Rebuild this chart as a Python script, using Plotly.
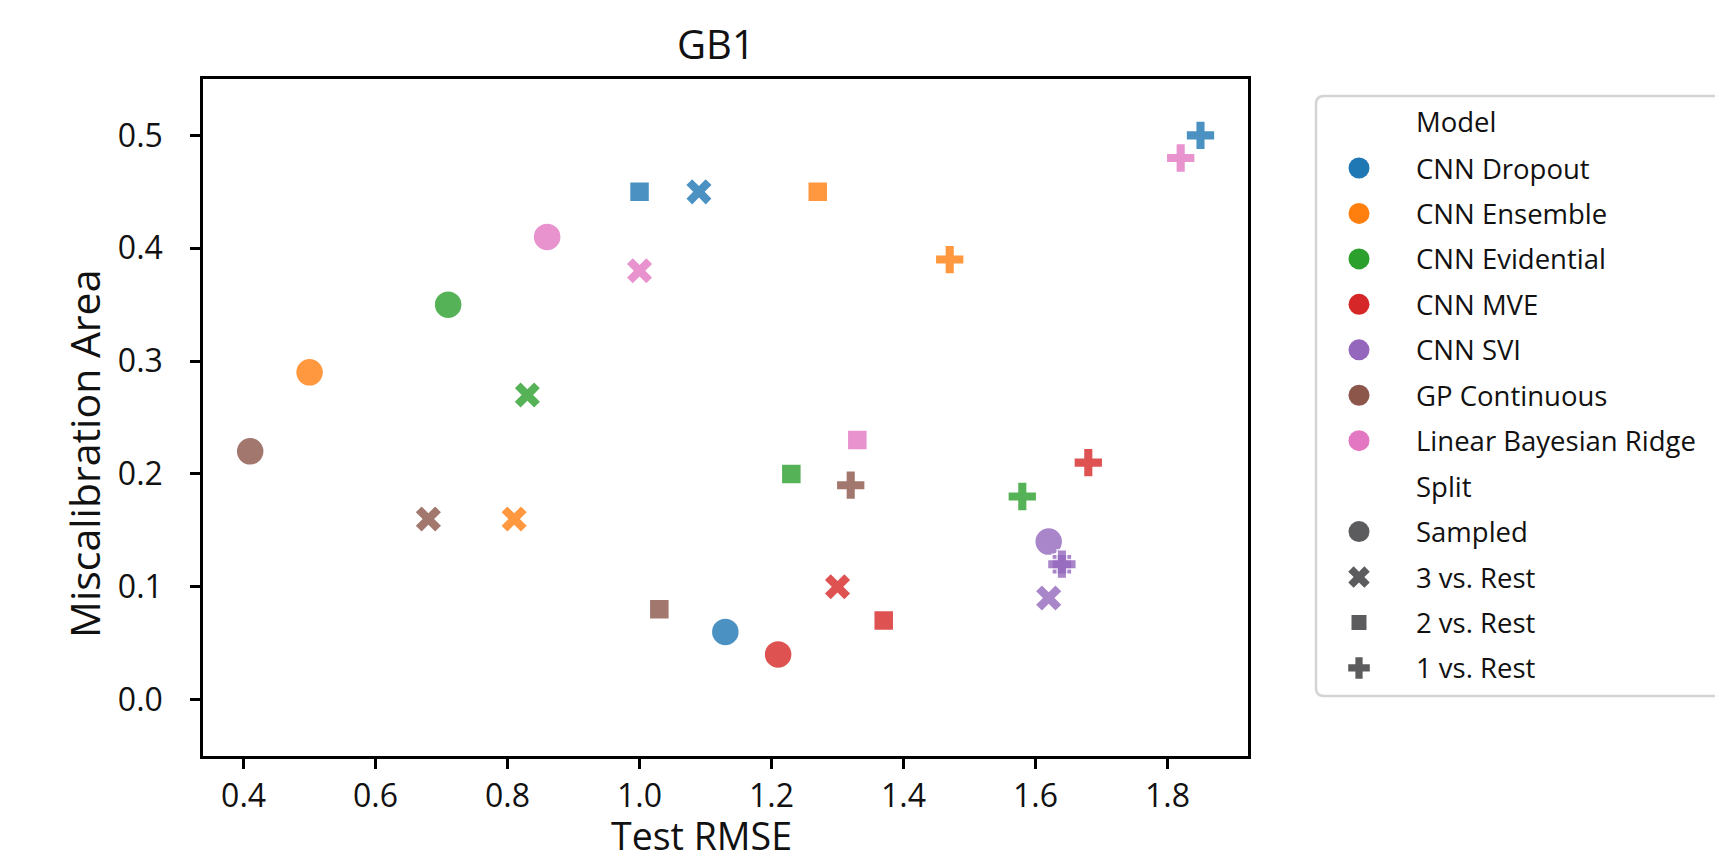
import plotly.graph_objects as go

# ---------------- data ----------------
models = ["CNN Dropout", "CNN Ensemble", "CNN Evidential", "CNN MVE",
          "CNN SVI", "GP Continuous", "Linear Bayesian Ridge"]
splits = ["Sampled", "3 vs. Rest", "2 vs. Rest", "1 vs. Rest"]

# values per split, in model order
sampled_rmse = [1.13, 0.50, 0.71, 1.21, 1.62, 0.41, 0.86]
sampled_miscal = [0.06, 0.29, 0.35, 0.04, 0.14, 0.22, 0.41]
three_vs_rest_rmse = [1.09, 0.81, 0.83, 1.30, 1.62, 0.68, 1.00]
three_vs_rest_miscal = [0.45, 0.16, 0.27, 0.10, 0.09, 0.16, 0.38]
two_vs_rest_rmse = [1.00, 1.27, 1.23, 1.37, 1.64, 1.03, 1.33]
two_vs_rest_miscal = [0.45, 0.45, 0.20, 0.07, 0.12, 0.08, 0.23]
one_vs_rest_rmse = [1.85, 1.47, 1.58, 1.68, 1.64, 1.32, 1.82]
one_vs_rest_miscal = [0.50, 0.39, 0.18, 0.21, 0.12, 0.19, 0.48]

x_ticks = [0.4, 0.6, 0.8, 1.0, 1.2, 1.4, 1.6, 1.8]
y_ticks = [0.0, 0.1, 0.2, 0.3, 0.4, 0.5]

# ---------------- styles ----------------
model_colors = ["#1f77b4", "#ff7f0e", "#2ca02c", "#d62728",
                "#9467bd", "#8c564b", "#e377c2"]
split_symbols = ["circle", "x", "square", "cross"]
split_sizes = [28, 24, 20, 24]
legend_sizes = [21, 19, 15, 18]
split_gray = "#5c5c5e"
FONT = "Open Sans, Noto Sans, DejaVu Sans, sans-serif"
TXT = "#111111"

W, H = 1715, 862
PX_L, PX_R, PX_T, PX_B = 203, 1248, 79, 756
LEG_X0 = 1300  # left pixel of the legend drawing area


def px(x):
    return x / W


def py(y):
    return 1 - y / H


rmse_by_split = [sampled_rmse, three_vs_rest_rmse, two_vs_rest_rmse, one_vs_rest_rmse]
miscal_by_split = [sampled_miscal, three_vs_rest_miscal, two_vs_rest_miscal, one_vs_rest_miscal]

xs, ys, cols, syms, sizes, texts = [], [], [], [], [], []
for mi, m in enumerate(models):
    for si, s in enumerate(splits):
        xs.append(rmse_by_split[si][mi])
        ys.append(miscal_by_split[si][mi])
        cols.append(model_colors[mi])
        syms.append(split_symbols[si])
        sizes.append(split_sizes[si])
        texts.append(f"{m} / {s}")

fig = go.Figure()
fig.add_trace(go.Scatter(
    x=xs, y=ys, mode="markers", text=texts, hoverinfo="text+x+y",
    marker=dict(color=cols, symbol=syms, size=sizes, opacity=0.8,
                line=dict(color="white", width=1.5)),
    showlegend=False, xaxis="x", yaxis="y"))

# ---------------- legend (drawn on its own small pixel axis) ----------------
row_first = 168.0
row_step = 45.45
legend_rows = [("Model", "title", None)]
for i, m in enumerate(models):
    legend_rows.append((m, "model", i))
legend_rows.append(("Split", "title", None))
for i, s in enumerate(splits):
    legend_rows.append((s, "split", i))

row_y = [121.5 if k == 0 else row_first + (k - 1) * row_step
         for k in range(len(legend_rows))]

mk_x, mk_y, mk_c, mk_s, mk_z = [], [], [], [], []
for (lab, kind, idx), yy in zip(legend_rows, row_y):
    if kind == "model":
        mk_x.append(1359); mk_y.append(yy); mk_c.append(model_colors[idx])
        mk_s.append("circle"); mk_z.append(legend_sizes[0])
    elif kind == "split":
        mk_x.append(1359); mk_y.append(yy); mk_c.append(split_gray)
        mk_s.append(split_symbols[idx]); mk_z.append(legend_sizes[idx])

fig.add_trace(go.Scatter(
    x=mk_x, y=mk_y, mode="markers", hoverinfo="skip",
    marker=dict(color=mk_c, symbol=mk_s, size=mk_z, opacity=1,
                line=dict(width=0)),
    showlegend=False, xaxis="x2", yaxis="y2"))

annotations = []
for (lab, kind, idx), yy in zip(legend_rows, row_y):
    annotations.append(dict(
        text=lab, x=px(1414), y=py(yy), xref="paper", yref="paper",
        xanchor="left", yanchor="middle", showarrow=False,
        font=dict(family=FONT, size=27.5, color=TXT)))

# titles
annotations.append(dict(text="GB1", x=px(716), y=py(44), xref="paper", yref="paper",
                         xanchor="center", yanchor="middle", showarrow=False,
                         font=dict(family=FONT, size=40, color=TXT)))
annotations.append(dict(text="Test RMSE", x=px(701), y=0, xref="paper", yref="paper",
                         xanchor="center", yanchor="bottom", showarrow=False,
                         borderpad=0,
                         font=dict(family=FONT, size=37.5, color=TXT)))
annotations.append(dict(text="Miscalibration Area", x=px(84), y=py(454),
                         xref="paper", yref="paper",
                         xanchor="center", yanchor="middle", textangle=-90,
                         showarrow=False,
                         font=dict(family=FONT, size=41, color=TXT)))

L, T, R, B, r = 1316, 96, 1745, 696, 8
legend_box = (f"M {L + r},{T} L {R},{T} L {R},{B} L {L + r},{B} "
              f"Q {L},{B} {L},{B - r} L {L},{T + r} Q {L},{T} {L + r},{T} Z")

axis_common = dict(showline=True, linecolor="black", linewidth=2.5, mirror=True,
                   ticks="outside", ticklen=10, tickwidth=2.5, tickcolor="black",
                   showgrid=False, zeroline=False,
                   tickfont=dict(family=FONT, size=32, color=TXT))

fig.update_layout(
    width=W, height=H, margin=dict(l=0, r=0, t=0, b=0),
    paper_bgcolor="white", plot_bgcolor="rgba(0,0,0,0)",
    font=dict(family=FONT),
    showlegend=False,
    xaxis=dict(domain=[px(PX_L), px(PX_R)], range=[0.3385, 1.922],
               tickvals=x_ticks, tickformat=".1f", anchor="y",
               ticklabelstandoff=0, **axis_common),
    yaxis=dict(domain=[py(PX_B), py(PX_T)], range=[-0.05, 0.55],
               tickvals=y_ticks, tickformat=".1f", anchor="x",
               ticklabelstandoff=21, **axis_common),
    xaxis2=dict(domain=[px(LEG_X0), 1], range=[LEG_X0, W], anchor="y2",
                visible=False, fixedrange=True),
    yaxis2=dict(domain=[0, 1], range=[H, 0], anchor="x2", visible=False,
                fixedrange=True),
    shapes=[dict(type="path", path=legend_box, xref="x2", yref="y2",
                 line=dict(color="#d4d4d4", width=2.5), fillcolor="white",
                 layer="below")],
    annotations=annotations,
)

fig.write_html("out.html", config={"displayModeBar": False},
               post_script="document.body.style.margin='0';document.body.style.overflow='hidden';")
